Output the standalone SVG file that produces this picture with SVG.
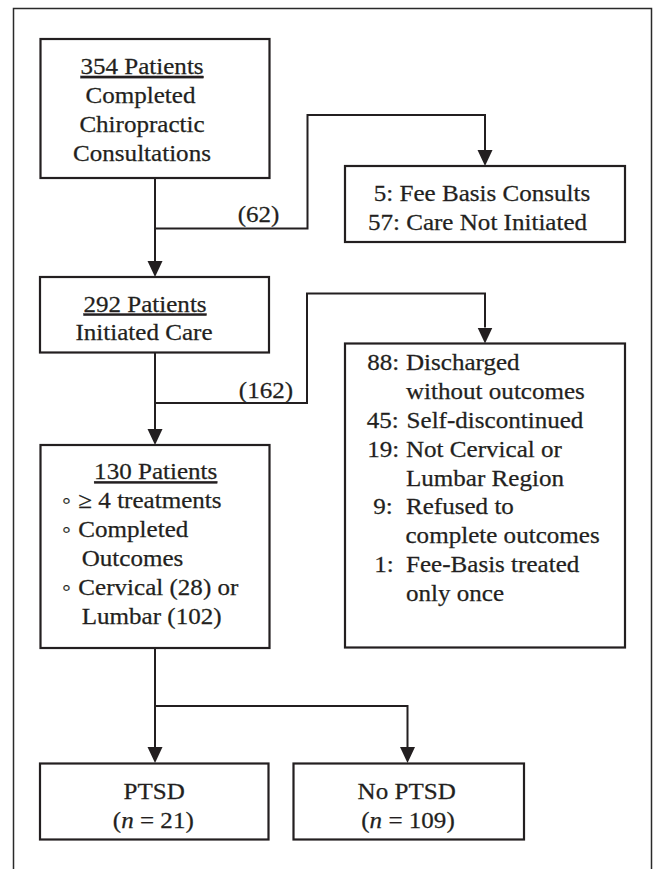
<svg xmlns="http://www.w3.org/2000/svg" width="656" height="869" viewBox="0 0 656 869">
<style>
.frame{fill:none;stroke:#2a2a2a;stroke-width:1.5}
.box{fill:#fff;stroke:#231f20;stroke-width:2.2}
.conn{fill:none;stroke:#231f20;stroke-width:2}
text{font-family:"Liberation Serif","Times New Roman",serif;font-size:23px;fill:#231f20;stroke:#231f20;stroke-width:0.25}
.m{text-anchor:middle}
.u{text-decoration:underline}
</style>
<defs>
<marker id="arr" markerUnits="userSpaceOnUse" markerWidth="16" markerHeight="16" viewBox="0 0 16 16" refX="0" refY="7.5" orient="auto">
<path d="M0,0 L16,7.5 L0,15 z" fill="#231f20"/>
</marker>
</defs>
<rect width="656" height="869" fill="#fff"/>
<path class="frame" d="M13.5,880 V8.5 H651.5 V880"/>

<g id="connectors">
<path class="conn" d="M155,178 V261" marker-end="url(#arr)"/>
<path class="conn" d="M155,228.5 H307.5 V115 H485 V150" marker-end="url(#arr)"/>
<text class="m" transform="translate(258.5,221.7) scale(1.09,1)">(62)</text>
<path class="conn" d="M155,352.5 V429" marker-end="url(#arr)"/>
<path class="conn" d="M155,403 H307 V293.5 H485 V327.5" marker-end="url(#arr)"/>
<text class="m" transform="translate(266,398.3) scale(1.09,1)">(162)</text>
<path class="conn" d="M155,648 V747"/>
<path class="conn" d="M155,706 V747" marker-end="url(#arr)"/>
<path class="conn" d="M155,706 H407.5 V747" marker-end="url(#arr)"/>
</g>

<g id="n1">
<rect class="box" x="40.5" y="39" width="229" height="139"/>
<text class="m u" transform="translate(142,74) scale(1.09,1)">354 Patients</text>
<text class="m" transform="translate(140.5,103) scale(1.09,1)">Completed</text>
<text class="m" transform="translate(142,132) scale(1.09,1)">Chiropractic</text>
<text class="m" transform="translate(142,161) scale(1.09,1)">Consultations</text>
</g>

<g id="n2">
<rect class="box" x="345" y="166" width="280" height="76"/>
<text class="m" transform="translate(482,200.5) scale(1.09,1)">5: Fee Basis Consults</text>
<text class="m" transform="translate(477.5,230) scale(1.09,1)">57: Care Not Initiated</text>
</g>

<g id="n3">
<rect class="box" x="40" y="277" width="229" height="75.5"/>
<text class="m u" transform="translate(145,311.5) scale(1.09,1)">292 Patients</text>
<text class="m" transform="translate(144,340) scale(1.09,1)">Initiated Care</text>
</g>

<g id="n4">
<rect class="box" x="345" y="343.5" width="280" height="304"/>
<text transform="translate(367.3,370) scale(1.09,1)"><tspan x="0">88:</tspan><tspan x="35.5">Discharged</tspan></text>
<text transform="translate(406,399) scale(1.09,1)">without outcomes</text>
<text transform="translate(366.7,427.7) scale(1.09,1)"><tspan x="0">45:</tspan><tspan x="36.6">Self-discontinued</tspan></text>
<text transform="translate(367.3,456.7) scale(1.09,1)"><tspan x="0">19:</tspan><tspan x="35.5">Not Cervical or</tspan></text>
<text transform="translate(406,485.7) scale(1.09,1)">Lumbar Region</text>
<text transform="translate(373.3,514.3) scale(1.09,1)"><tspan x="0">9:</tspan><tspan x="30">Refused to</tspan></text>
<text transform="translate(405.5,543.3) scale(1.09,1)">complete outcomes</text>
<text transform="translate(374.3,572) scale(1.09,1)"><tspan x="0">1:</tspan><tspan x="29.1">Fee-Basis treated</tspan></text>
<text transform="translate(406,600.7) scale(1.09,1)">only once</text>
</g>

<g id="n5">
<rect class="box" x="40.5" y="445" width="229" height="203"/>
<text class="m u" transform="translate(155.7,479.3) scale(1.09,1)">130 Patients</text>
<text transform="translate(62,508.3) scale(1.09,1)"><tspan x="0">◦</tspan><tspan x="15">≥ 4 treatments</tspan></text>
<text transform="translate(62,536.7) scale(1.09,1)"><tspan x="0">◦</tspan><tspan x="15">Completed</tspan></text>
<text transform="translate(81.7,566) scale(1.09,1)">Outcomes</text>
<text transform="translate(62,595) scale(1.09,1)"><tspan x="0">◦</tspan><tspan x="15">Cervical (28) or</tspan></text>
<text transform="translate(81.7,624) scale(1.09,1)">Lumbar (102)</text>
</g>

<g id="n6">
<rect class="box" x="40" y="763.5" width="228.5" height="76"/>
<text class="m" transform="translate(154.2,799.3) scale(1.09,1)">PTSD</text>
<text class="m" transform="translate(153.3,827.7) scale(1.09,1)">(<tspan font-style="italic">n</tspan> = 21)</text>
</g>

<g id="n7">
<rect class="box" x="293.5" y="763.5" width="230.5" height="76"/>
<text class="m" transform="translate(406.7,799.3) scale(1.09,1)">No PTSD</text>
<text class="m" transform="translate(408,827.7) scale(1.09,1)">(<tspan font-style="italic">n</tspan> = 109)</text>
</g>
</svg>
